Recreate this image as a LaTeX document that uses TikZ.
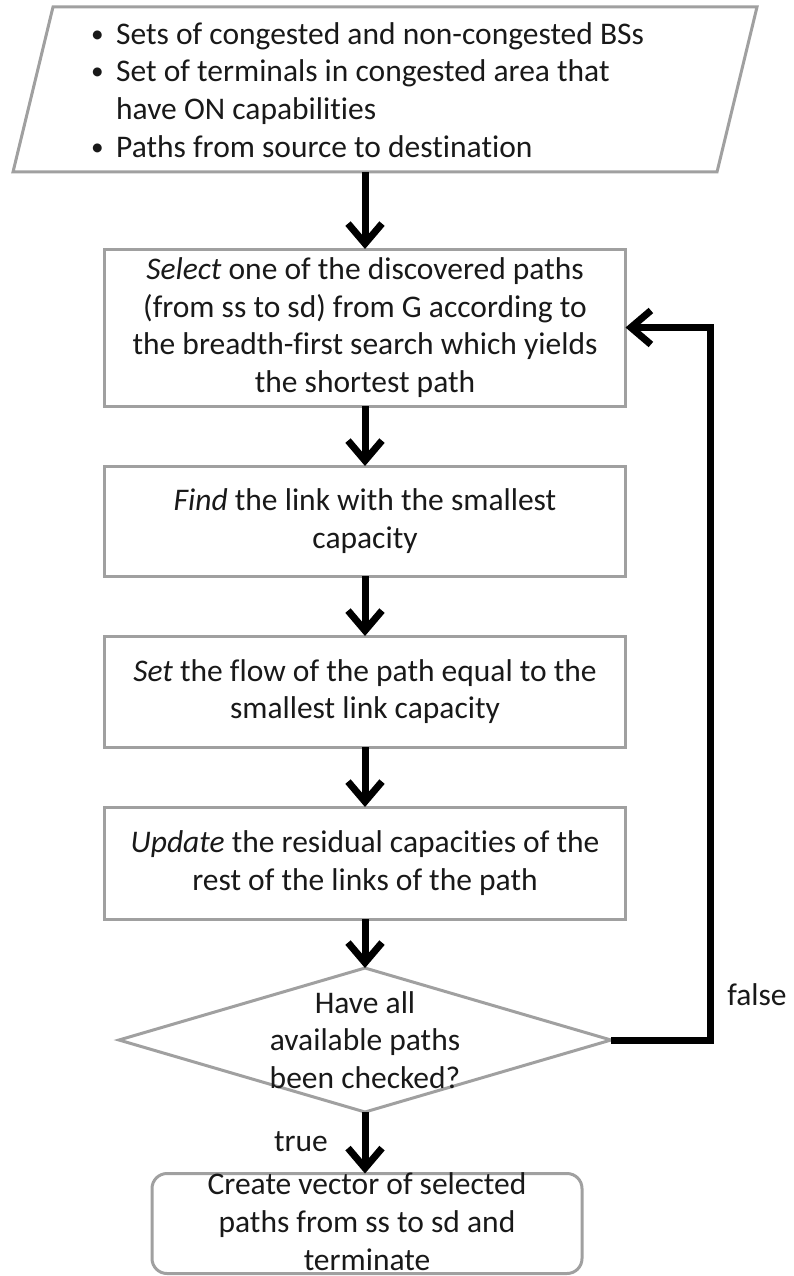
\documentclass[tikz,border=0pt]{standalone}
\usepackage{fontspec}
\setmainfont{Carlito}[Ligatures=NoCommon]
\usetikzlibrary{shapes.geometric,arrows.meta}
\definecolor{edgegray}{RGB}{160,160,160}
\definecolor{inkblack}{RGB}{25,25,25}
\begin{document}
\begin{tikzpicture}[x=1pt,y=-1pt,
  every node/.style={font=\fontsize{31.5}{37.8}\selectfont, text=inkblack},
  boxline/.style={draw=edgegray, line width=3pt},
  procbox/.style={boxline, fill=white, minimum width=521pt,
    inner sep=0pt, outer sep=0pt, align=center},
  decision/.style={diamond, boxline, minimum width=492pt,
    minimum height=144pt, inner sep=0pt, outer sep=0pt},
  endbox/.style={boxline, rounded corners=15pt,
    minimum width=430pt, minimum height=100pt, inner sep=0pt, outer sep=0pt},
  inner/.style={align=center, inner sep=0pt},
  flow/.style={line width=7pt, draw=black, -{Straight Barb[length=20pt,width=34pt]}},
]
\useasboundingbox (0,0) rectangle (794,1276);

% input data (parallelogram)
\draw[boxline] (53,7) -- (757,7) -- (717,172) -- (13,172) -- cycle;
\coordinate (inpbot) at (365,172);
\node[anchor=north west, inner sep=0pt] (inptxt) at (91,17.5)
  {\begin{tabular}{@{}p{25pt}@{}l@{}}
   \raisebox{2pt}{\scalebox{0.8}{•}} & Sets of congested and non-congested BSs\\
   \raisebox{2pt}{\scalebox{0.8}{•}} & Set of terminals in congested area that\\
   & have ON capabilities\\
   \raisebox{2pt}{\scalebox{0.8}{•}} & Paths from source to destination
   \end{tabular}};

% processing steps
\node[procbox, minimum height=157pt] (sel) at (365,327.5)
  {\textit{Select} one of the discovered paths\\(from ss to sd) from G according to\\the breadth-first search which yields\\the shortest path};
\node[procbox, minimum height=110pt] (find) at (365,521)
  {\textit{Find} the link with the smallest\\capacity};
\node[procbox, minimum height=111pt] (setf) at (365,691.5)
  {\textit{Set} the flow of the path equal to the\\smallest link capacity};
\node[procbox, minimum height=112pt] (upd) at (365,863)
  {\textit{Update} the residual capacities of the\\rest of the links of the path};

% loop test
\node[decision, label={[inner]center:{Have all\\available paths\\been checked?}}] (dec) at (365,1040) {};

% final step
\node[endbox, label={[inner, yshift=2pt]center:{Create vector of selected\\paths from ss to sd and\\terminate}}] (endb) at (367,1223.5) {};

% connectors
\draw[flow] (inpbot) -- (sel.north);
\draw[flow] (sel.south) -- (find.north);
\draw[flow] (find.south) -- (setf.north);
\draw[flow] (setf.south) -- (upd.north);
\draw[flow] (upd.south) -- (dec.north);
\draw[flow] (dec.south) -- (dec.south |- endb.north);
\draw[flow] (dec.east) -- ++(99,0) |- (sel.east);

% branch labels
\node[inner sep=0pt] (truelbl) at (301,1142) {true};
\node[inner sep=0pt] (falselbl) at (757,995) {false};
\end{tikzpicture}
\end{document}
